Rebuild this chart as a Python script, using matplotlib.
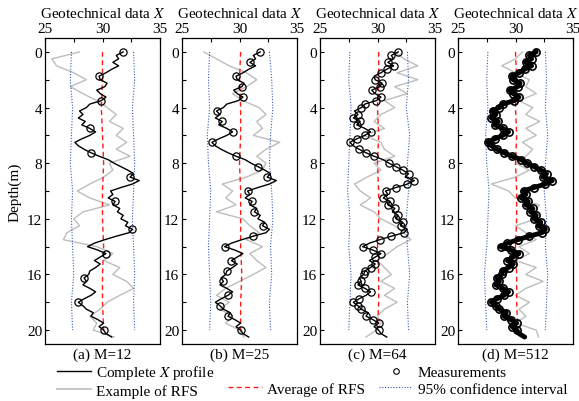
import numpy as np
import matplotlib as mpl
mpl.use('Agg')
import matplotlib.pyplot as plt
from matplotlib.lines import Line2D

# complete X profile, read every 0.25 m (0 .. 20.5 m)
profile_step = 0.25
profile = [31.8, 31.2, 31.4, 30.9, 31.4, 30.8, 30.3, 29.7, 29.8, 30.4,
           30.2, 29.5, 29.8, 30.3, 29.9, 28.9, 28.6, 28.0, 28.3, 27.9,
           28.5, 28.2, 28.9, 29.4, 28.9, 28.2, 27.6, 27.9, 28.4, 29.0,
           29.7, 30.5, 31.0, 31.6, 32.2, 32.7, 32.4, 33.2, 32.6, 31.6,
           30.7, 30.9, 30.5, 31.1, 30.9, 31.5, 31.3, 31.8, 31.6, 32.2,
           32.0, 32.6, 32.3, 31.2, 30.2, 29.3, 28.7, 29.6, 30.3, 29.8,
           29.3, 29.8, 29.4, 28.9, 28.8, 28.4, 28.6, 28.3, 28.9, 29.4,
           29.0, 28.4, 27.9, 28.3, 28.6, 29.2, 29.0, 29.6, 30.1, 29.7,
           30.1, 30.3, 30.8]

# one example RFS per panel, read every 0.5 m (0 .. 20.5 m)
rfs_step = 0.5
rfs_a = [28.0, 25.6, 26.0, 27.5, 28.6, 27.2, 28.3, 29.5, 30.4, 31.2,
         30.6, 31.8, 31.2, 32.1, 31.2, 32.4, 30.6, 30.9, 30.1, 28.9,
         27.8, 28.9, 30.6, 28.3, 27.5, 28.0, 26.9, 26.6, 29.5, 30.9,
         30.1, 31.5, 30.9, 32.1, 32.7, 31.5, 30.4, 29.8, 28.9, 29.5,
         29.2, 31.0]
rfs_b = [26.9, 28.0, 29.1, 30.6, 31.5, 30.6, 29.4, 30.3, 31.7, 32.3,
         31.5, 32.0, 31.2, 33.5, 32.3, 31.5, 32.3, 32.0, 30.6, 28.5,
         29.4, 28.8, 29.7, 28.0, 30.3, 30.9, 31.7, 30.6, 32.0, 30.9,
         31.5, 32.3, 31.2, 30.0, 28.8, 28.0, 29.1, 28.3, 29.4, 28.8,
         30.0, 30.4]
rfs_c = [31.5, 32.3, 33.5, 31.7, 33.5, 31.5, 32.6, 30.6, 31.5, 30.3,
         29.7, 30.6, 28.8, 30.3, 30.6, 31.5, 29.7, 30.3, 29.1, 28.0,
         28.5, 29.4, 28.5, 29.7, 30.3, 31.5, 32.3, 32.9, 31.7, 30.9,
         30.0, 30.6, 31.2, 30.3, 31.5, 30.6, 31.7, 30.6, 30.0, 30.3,
         29.9, 29.0]
rfs_d = [30.6, 30.0, 28.8, 30.0, 31.2, 30.9, 31.8, 30.3, 31.5, 30.9,
         32.1, 30.9, 31.8, 30.6, 31.5, 30.9, 30.0, 31.2, 30.0, 27.9,
         29.4, 30.0, 32.1, 31.5, 31.8, 30.0, 30.9, 31.8, 30.3, 31.2,
         30.0, 31.8, 30.9, 32.4, 30.9, 30.0, 31.2, 30.3, 30.9, 30.0,
         31.8, 32.0]

# average of RFS and 95% bounds, read every 2 m (0 .. 20 m)
stat_depth = [0, 2, 4, 6, 8, 10, 12, 14, 16, 18, 20]
avg_a = [30.0, 30.0, 29.9, 30.0, 30.1, 30.0, 30.0, 30.1, 30.0, 30.0, 30.1]
avg_b = [30.1, 30.0, 30.1, 30.1, 30.0, 30.1, 30.1, 30.1, 30.2, 30.1, 30.1]
avg_c = [30.1, 30.1, 30.0, 30.1, 30.0, 30.1, 30.1, 30.0, 30.1, 30.1, 30.0]
avg_d = [30.0, 30.1, 30.0, 30.1, 30.0, 30.1, 30.1, 30.0, 30.1, 30.1, 30.2]
low_a = [27.3, 27.2, 27.4, 27.3, 27.2, 27.4, 27.3, 27.4, 27.5, 27.3, 27.4]
up_a = [32.7, 32.8, 32.6, 32.7, 32.8, 32.7, 32.6, 32.7, 32.8, 32.7, 32.8]
low_b = [27.4, 27.3, 27.4, 27.2, 27.3, 27.5, 27.4, 27.3, 27.4, 27.5, 27.4]
up_b = [32.6, 32.8, 32.9, 32.7, 32.6, 32.8, 32.9, 32.7, 32.8, 32.6, 32.7]
low_c = [27.6, 27.5, 27.7, 27.6, 27.5, 27.4, 27.6, 27.5, 27.7, 27.6, 27.5]
up_c = [32.6, 32.7, 32.5, 32.8, 32.6, 32.7, 32.5, 32.6, 32.8, 32.6, 32.7]
low_d = [27.6, 27.5, 27.6, 27.4, 27.5, 27.7, 27.6, 27.5, 27.3, 27.4, 27.5]
up_d = [32.6, 32.7, 32.6, 32.8, 32.6, 32.5, 32.7, 32.6, 32.8, 32.7, 32.6]

n_meas = [12, 25, 64, 512]
captions = ['(a) M=12', '(b) M=25', '(c) M=64', '(d) M=512']
x_ticks = [25, 27.5, 30, 32.5, 35]
x_tick_labels = ['25', '', '30', '', '35']
y_ticks = [0, 2, 4, 6, 8, 10, 12, 14, 16, 18, 20]
y_tick_labels = ['0', '', '4', '', '8', '', '12', '', '16', '', '20']


def main():
    mpl.rcParams['font.family'] = ['Liberation Serif', 'DejaVu Serif']
    mpl.rcParams['mathtext.fontset'] = 'stix'
    mpl.rcParams['font.size'] = 11

    fig = plt.figure(figsize=(5.79, 4.02), dpi=100)
    lefts = [45, 182, 320, 458]

    depth = np.arange(len(profile)) * profile_step
    rfs_depth = np.arange(len(rfs_a)) * rfs_step
    rfs_all = [rfs_a, rfs_b, rfs_c, rfs_d]
    avg_all = [avg_a, avg_b, avg_c, avg_d]
    low_all = [low_a, low_b, low_c, low_d]
    up_all = [up_a, up_b, up_c, up_d]

    for i in range(4):
        ax = fig.add_axes([lefts[i] / 579, 1 - 345 / 402, 115 / 579, 306 / 402])
        ax.plot(rfs_all[i], rfs_depth, color='#bdbdbd', lw=1.0)
        ax.plot(low_all[i], stat_depth, ls=(0, (1, 1.5)), color='#3a55b8', lw=0.8)
        ax.plot(up_all[i], stat_depth, ls=(0, (1, 1.5)), color='#3a55b8', lw=0.8)
        ax.plot(avg_all[i], stat_depth, ls=(0, (3.5, 2.5)), color='#ff1a1a', lw=1.0)
        ax.plot(profile, depth, color='k', lw=1.0)

        # measurements taken on the profile at M equally spaced depths
        m = n_meas[i]
        idx = np.unique(np.round(np.linspace(0, 79.5, m)).astype(int))
        if m > 100:
            ax.plot(np.array(profile), depth, color='k', lw=3.5, solid_capstyle='round')
        ax.plot(np.array(profile)[idx], depth[idx], ls='none', marker='o',
                ms=5.2, mfc='none', mec='k', mew=0.9 if m < 100 else 1.2)

        ax.set_xlim(25, 35)
        ax.set_ylim(21, -1)
        ax.xaxis.tick_top()
        ax.xaxis.set_label_position('top')
        ax.set_xticks(x_ticks)
        ax.set_xticklabels(x_tick_labels)
        ax.set_yticks(y_ticks)
        ax.set_yticklabels(y_tick_labels)
        ax.tick_params(direction='in', length=3, width=0.8, pad=2)
        ax.set_xlabel('Geotechnical data $X$', labelpad=3.5)
        for s in ax.spines.values():
            s.set_linewidth(0.9)
        ax.text(0.5, -0.012, captions[i], transform=ax.transAxes,
                ha='center', va='top')
        if i == 0:
            ax.set_ylabel('Depth(m)', labelpad=4)

    handles = [
        Line2D([], [], color='k', lw=1.0),
        Line2D([], [], color='#bdbdbd', lw=1.2),
        Line2D([], [], color='none'),
        Line2D([], [], color='#ff1a1a', lw=1.0, ls=(0, (3.5, 2.5))),
        Line2D([], [], ls='none', marker='o', ms=4, mfc='none', mec='k', mew=0.8),
        Line2D([], [], color='#3a55b8', lw=0.8, ls=(0, (1, 1.5))),
    ]
    labels = ['Complete $X$ profile', 'Example of RFS', '', 'Average of RFS',
              'Measurements', '95% confidence interval']
    fig.legend(handles, labels, ncol=3, loc='upper left',
               bbox_to_anchor=(57 / 579, 1 - 364 / 402), frameon=False,
               borderpad=0, borderaxespad=0, handlelength=2.2,
               handletextpad=0.35, columnspacing=0.9, labelspacing=0.2)

    fig.savefig('out.png', dpi=100)


if __name__ == '__main__':
    main()
